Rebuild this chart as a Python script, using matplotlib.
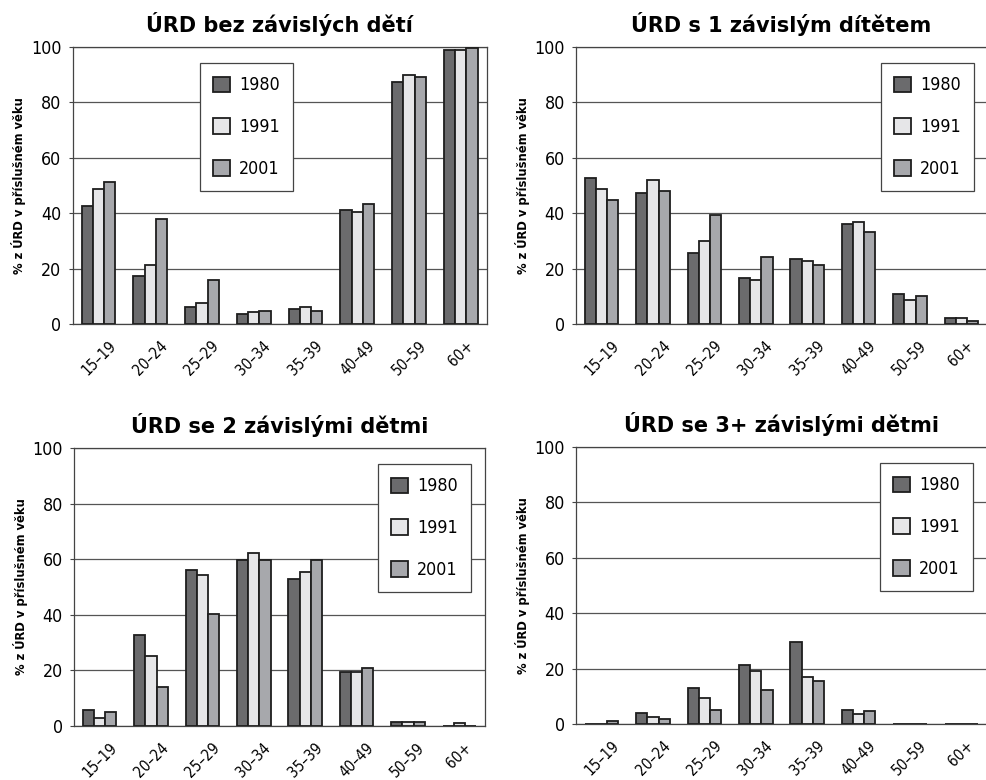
import matplotlib
matplotlib.use('Agg')
import matplotlib.pyplot as plt
from matplotlib import font_manager as fm
import numpy as np

# Age groups and years
ages = ['15–19', '20–24', '25–29', '30–34', '35–39', '40–49', '50–59', '60+']
years = ['1980', '1991', '2001']

titles = ['ÚRD bez závislých dětí', 'ÚRD s 1 závislým dítětem',
          'ÚRD se 2 závislými dětmi', 'ÚRD se 3+ závislými dětmi']

# % of households in given age, per panel: rows = 1980, 1991, 2001
no_children = [
    [42.6, 17.2, 6.3, 3.5, 5.5, 41.3, 87.2, 98.8],
    [48.8, 21.3, 7.7, 4.2, 6.3, 40.5, 89.9, 98.8],
    [51.4, 37.8, 15.8, 4.8, 4.8, 43.3, 89.3, 99.5],
]
one_child = [
    [52.8, 47.2, 25.5, 16.6, 23.5, 36.0, 10.8, 2.0],
    [48.7, 52.0, 29.9, 15.8, 22.8, 36.7, 8.7, 2.0],
    [44.6, 48.0, 39.5, 24.3, 21.4, 33.3, 10.2, 1.0],
]
two_children = [
    [5.9, 32.7, 56.1, 59.7, 52.9, 19.5, 1.5, 0.0],
    [3.0, 25.2, 54.2, 62.4, 55.5, 19.4, 1.5, 1.0],
    [5.2, 14.2, 40.3, 59.7, 59.6, 21.0, 1.5, 0.0],
]
three_plus = [
    [0.0, 4.0, 12.9, 21.3, 29.6, 5.2, 0.0, 0.0],
    [0.0, 2.4, 9.4, 19.0, 17.1, 3.7, 0.0, 0.0],
    [1.0, 1.8, 5.2, 12.2, 15.6, 4.6, 0.0, 0.0],
]
panels = [no_children, one_child, two_children, three_plus]

colors = ['#6b6b6d', '#e6e6e8', '#a7a8ac']
edge = '#1e1e1e'

# pick a narrow font for ticks / legend if one is installed
fonts = fm.fontManager.ttflist
names = {f.name for f in fonts}
narrow = dict(family=['DejaVu Sans'], stretch='normal', scale=0.78)
if 'Liberation Sans Narrow' in names:
    narrow = dict(family=['Liberation Sans Narrow', 'DejaVu Sans'], stretch='normal', scale=1.0)
elif any(f.name == 'DejaVu Sans' and f.stretch == 'condensed' for f in fonts):
    narrow = dict(family=['DejaVu Sans'], stretch='condensed', scale=0.88)
elif 'Roboto Condensed' in names:
    narrow = dict(family=['Roboto Condensed', 'DejaVu Sans'], stretch='normal', scale=1.0)
nf = narrow['family']
ns = narrow['stretch']
k = narrow['scale']

plt.rcParams['font.family'] = ['DejaVu Sans']

W, H = 987, 780
fig = plt.figure(figsize=(W / 100, H / 100), dpi=100)

# axes boxes in pixels: left, top, right, bottom
boxes = [(72.7, 47, 486.7, 324), (576, 47, 987, 324),
         (74, 448, 485, 726), (576, 447, 987, 724)]
# legend anchor (pixels) and corner
leg_pos = [((200, 63), 'upper left'), ((974, 63), 'upper right'),
           ((471, 464), 'upper right'), ((973, 463), 'upper right')]

x = np.arange(len(ages))
bw = 0.218

for i, (data, title) in enumerate(zip(panels, titles)):
    l, t, r, b = boxes[i]
    ax = fig.add_axes([l / W, 1 - b / H, (r - l) / W, (b - t) / H])
    for j, yr in enumerate(years):
        ax.bar(x + (j - 1) * bw, data[j], bw, color=colors[j],
               edgecolor=edge, linewidth=1.3, label=yr, zorder=3)
    ax.set_xlim(-0.5, len(ages) - 0.5)
    ax.set_ylim(0, 100)
    ax.set_yticks(range(0, 101, 20))
    ax.yaxis.grid(True, color='#555555', linewidth=0.9, zorder=0)
    ax.set_axisbelow(True)
    for s in ax.spines.values():
        s.set_color('#444444')
        s.set_linewidth(0.9)
    ax.set_xticks(x)
    ax.set_xticklabels(ages, rotation=45, ha='center', va='top',
                       fontsize=12.5 * k, family=nf, fontstretch=ns)
    ax.tick_params(axis='x', length=0, pad=10)
    ax.tick_params(axis='y', length=3, pad=5, color='#444444')
    for lab in ax.get_yticklabels():
        lab.set_fontsize(14.5 * k)
        lab.set_family(nf)
        lab.set_fontstretch(ns)
    ax.set_title(title, fontsize=15, fontweight='bold', pad=11)
    ax.set_ylabel('% z ÚRD v příslušném věku', fontsize=10.5 * k,
                  fontweight='bold', family=nf, fontstretch=ns)
    ax.yaxis.set_label_coords(-0.112, 0.5)
    (px, py), loc = leg_pos[i]
    leg = ax.legend(loc=loc, bbox_to_anchor=(px / W, 1 - py / H),
                    bbox_transform=fig.transFigure, borderaxespad=0,
                    fancybox=False, framealpha=1, edgecolor='#444444',
                    prop={'size': 14.5 * k, 'family': nf, 'stretch': ns},
                    borderpad=0.75, labelspacing=1.35, handlelength=0.95,
                    handleheight=0.95, handletextpad=0.5)
    leg.get_frame().set_linewidth(0.9)

fig.savefig('out.png', dpi=100)
